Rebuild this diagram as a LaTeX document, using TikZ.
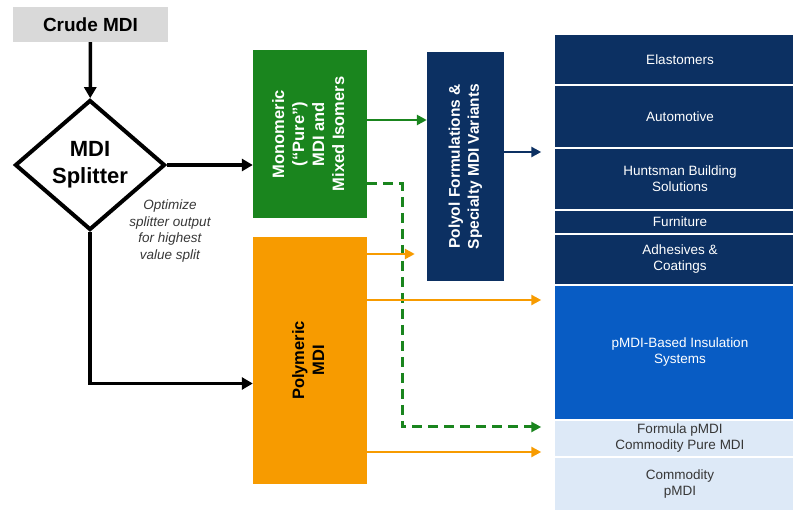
\documentclass[tikz,border=0pt]{standalone}
\usepackage{fontspec}
\setmainfont{Liberation Sans}
\usepackage{graphicx}
\usetikzlibrary{shapes.geometric,arrows.meta}
\definecolor{crudegray}{RGB}{217,217,217}
\definecolor{monogreen}{RGB}{26,133,30}
\definecolor{polyorange}{RGB}{247,155,0}
\definecolor{polyolnavy}{RGB}{12,48,98}
\definecolor{insblue}{RGB}{8,92,196}
\definecolor{commlight}{RGB}{221,233,247}
\definecolor{commtext}{RGB}{55,55,55}
\begin{document}
\begin{tikzpicture}
[x=1pt,y=-1pt,
  boxdecorate/.style={shape=rectangle,inner sep=0pt,align=center},
  rowdecorate/.style={shape=rectangle,draw=white,line width=1.5pt,minimum width=252pt,
    inner sep=0pt,align=center,font=\fontsize{13.5}{16}\selectfont},
  blackline/.style={line width=3.5pt,-{Triangle[length=11pt,width=12pt]}},
  flowline/.style={line width=2.5pt,-{Triangle[length=10pt,width=10pt]}}]
\useasboundingbox (0,0) rectangle (793,510);
%% products on the right
\foreach \rowname/\y/\h/\fillcol/\textcol/\rowtext in {
  elast/59.5/51/polyolnavy/white/Elastomers,
  auto/116.5/63/polyolnavy/white/Automotive,
  hbs/179/62/polyolnavy/white/Huntsman Building\\Solutions,
  furn/222/24/polyolnavy/white/Furniture,
  adh/259.5/51/polyolnavy/white/Adhesives \&\\Coatings,
  ins/352.5/135/insblue/white/pMDI-Based Insulation\\Systems,
  form/438.5/37/commlight/commtext/Formula pMDI\\Commodity Pure MDI,
  comm/484.5/55/commlight/commtext/Commodity\\pMDI} {
  \node (\rowname) at (680,\y) [rowdecorate,minimum height=\h pt,fill=\fillcol,text=\textcol] {\rowtext};
}
%% process boxes
\node (crude) at (90.5,24.5) [boxdecorate,fill=crudegray,minimum width=155pt,minimum height=35pt,
  font=\bfseries\fontsize{19}{22}\selectfont] {Crude MDI};
\node (split) at (90,165) [shape=diamond,draw,line width=4pt,minimum width=150pt,minimum height=130pt,
  inner sep=0pt,align=center,font=\bfseries\fontsize{22}{27}\selectfont] {MDI\\Splitter};
\node (note) at (170,231) [align=center,text=commtext,font=\itshape\fontsize{13.5}{16.5}\selectfont]
  {Optimize\\splitter output\\for highest\\value split};
\node (mono) at (310,134) [boxdecorate,fill=monogreen,text=white,minimum width=114pt,minimum height=168pt,
  font=\bfseries\fontsize{16.5}{20}\selectfont]
  {\rotatebox{90}{\begin{tabular}{@{}c@{}}Monomeric\\(“Pure”)\\MDI and\\Mixed Isomers\end{tabular}}};
\node (poly) at (310,360.5) [boxdecorate,fill=polyorange,text=black,minimum width=114pt,minimum height=247pt,
  font=\bfseries\fontsize{16.5}{20}\selectfont]
  {\rotatebox{90}{\begin{tabular}{@{}c@{}}Polymeric\\MDI\end{tabular}}};
\node (polyol) at (465.5,166.5) [boxdecorate,fill=polyolnavy,text=white,minimum width=77pt,minimum height=229pt,
  font=\bfseries\fontsize{15.5}{19}\selectfont]
  {\rotatebox{90}{\begin{tabular}{@{}c@{}}Polyol Formulations \&\\Specialty MDI Variants\end{tabular}}};
%% splitter flows
\draw[blackline] (crude) -- (split);
\draw[blackline] (split.east) -- (split.east -| mono.west);
\draw[blackline] (split.south) |- ([yshift=-23pt]poly.west);
%% product flows
\draw[flowline,monogreen] ([yshift=14pt]mono.east) -- ([yshift=14pt]mono.east -| polyol.west);
\draw[flowline,monogreen,line width=3pt,dash pattern=on 10pt off 6pt,shorten >=12pt]
  ([yshift=-50pt]mono.east) -- ++(35,0) |- ([yshift=11.5pt]form.west);
\draw[flowline,polyolnavy,shorten >=12pt] ([yshift=14.5pt]polyol.east) -- ([yshift=14.5pt]polyol.east -| hbs.west);
\foreach \shift/\target in {106.5/polyol, 60.5/ins, -91.5/form} {
  \draw[flowline,polyorange,shorten >=12pt] ([yshift=\shift pt]poly.east) -- ([yshift=\shift pt]poly.east -| \target.west);
}
\end{tikzpicture}
\end{document}
